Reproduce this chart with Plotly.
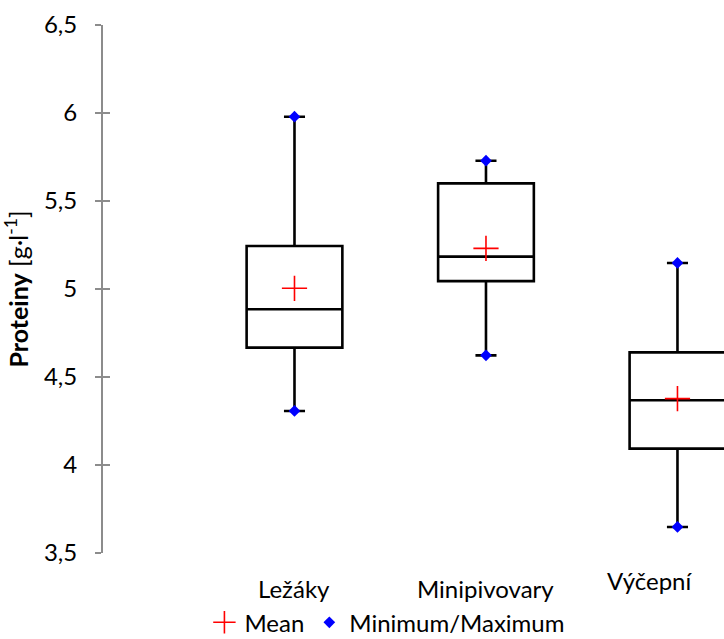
import plotly.graph_objects as go

categories = ["Ležáky", "Minipivovary", "Výčepní"]
q1_vals = [4.667, 5.045, 4.093]
median_vals = [4.885, 5.184, 4.368]
q3_vals = [5.244, 5.600, 4.640]
min_vals = [4.307, 4.623, 3.648]
max_vals = [5.979, 5.729, 5.148]
mean_vals = [5.004, 5.231, 4.377]

y_ticks = [3.5, 4, 4.5, 5, 5.5, 6, 6.5]

FONT = "Lato"
FS = 24
AXIS_GRAY = "#8c8c8c"

fig = go.Figure()

fig.add_trace(go.Box(
    x=categories,
    q1=q1_vals, median=median_vals, q3=q3_vals,
    lowerfence=min_vals, upperfence=max_vals,
    width=0.5, whiskerwidth=0.22,
    fillcolor="white",
    line=dict(color="black", width=2.6),
    boxpoints=False,
    showlegend=False,
    hoverinfo="skip",
))

fig.add_trace(go.Scatter(
    x=categories, y=mean_vals, mode="markers", name="Mean",
    marker=dict(symbol="cross-thin", size=18, color="red",
                line=dict(color="red", width=1.6)),
))

fig.add_trace(go.Scatter(
    x=categories + categories, y=min_vals + max_vals, mode="markers",
    name="Minimum/Maximum",
    marker=dict(symbol="diamond", size=9, color="#0000ff",
                line=dict(width=0)),
))

# invisible trace on overlay axis for cross tick marks
fig.add_trace(go.Scatter(
    x=[categories[0]], y=[y_ticks[0]], yaxis="y2", mode="markers",
    marker=dict(opacity=0), showlegend=False, hoverinfo="skip",
))

label_shift = [0, 0, -28]
label_y = [-0.068, -0.068, -0.052]
for cat, dx, ly in zip(categories, label_shift, label_y):
    fig.add_annotation(
        x=cat, y=ly, xref="x", yref="paper", text=cat, showarrow=False,
        xshift=dx, yanchor="middle",
        font=dict(family=FONT, size=FS, color="black"),
    )

fig.update_layout(
    width=724, height=639,
    margin=dict(l=103, r=0, t=25, b=86, autoexpand=False),
    paper_bgcolor="white", plot_bgcolor="white",
    separators=", ",
    font=dict(family=FONT, size=FS, color="black"),
    xaxis=dict(
        type="category", categoryorder="array", categoryarray=categories,
        range=[-1, 2.243], showline=False, showgrid=False, zeroline=False,
        showticklabels=False, ticks="",
    ),
    yaxis=dict(
        range=[3.5, 6.5], tickvals=y_ticks,
        ticktext=[f"{v:g}".replace(".", ",") for v in y_ticks],
        showline=True, linecolor=AXIS_GRAY, linewidth=2,
        ticks="outside", ticklen=6, tickwidth=2, tickcolor=AXIS_GRAY,
        showgrid=False, zeroline=False, ticklabelstandoff=13,
        tickfont=dict(family=FONT, size=FS, color="black"),
        title=dict(text="<b>Proteiny</b> [g·l<sup>-1</sup>]",
                   font=dict(family=FONT, size=25, color="black"),
                   standoff=10),
    ),
    yaxis2=dict(
        overlaying="y", side="left", anchor="x", range=[3.5, 6.5],
        tickvals=y_ticks, showticklabels=False, showline=False,
        ticks="inside", ticklen=7, tickwidth=2, tickcolor=AXIS_GRAY,
        showgrid=False, zeroline=False,
    ),
    legend=dict(
        orientation="h", x=0.458, xanchor="center", y=-0.132, yanchor="middle",
        font=dict(family=FONT, size=FS, color="black"),
        bgcolor="rgba(0,0,0,0)", itemwidth=30, tracegroupgap=0,
    ),
)

fig.write_html("out.html")
